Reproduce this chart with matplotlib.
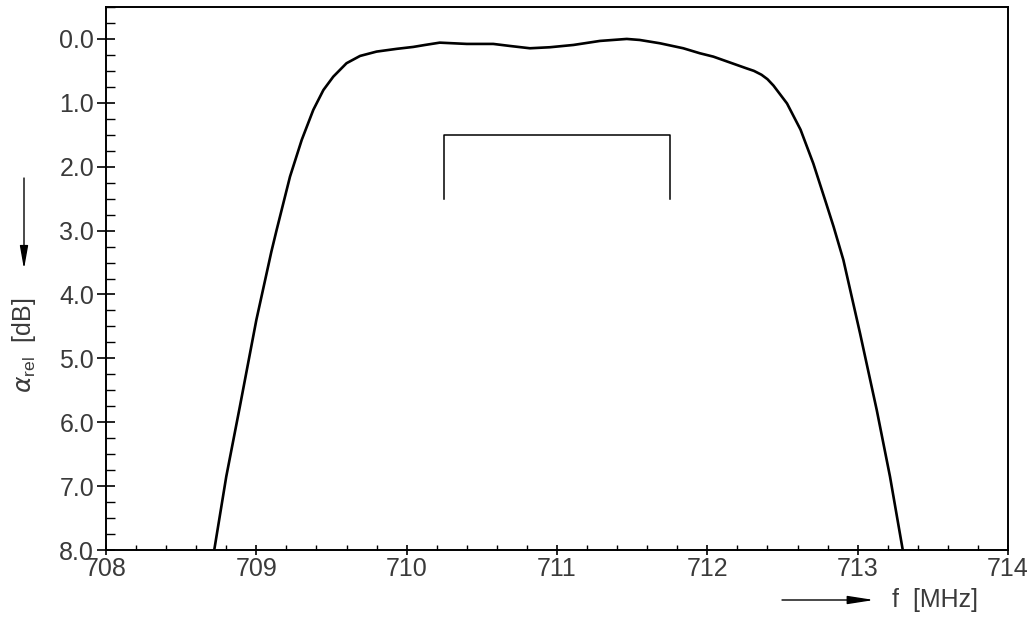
import matplotlib

matplotlib.use("Agg")
import matplotlib.pyplot as plt
from matplotlib.ticker import MultipleLocator, FormatStrFormatter

plt.rcParams["font.family"] = ["Liberation Sans", "DejaVu Sans"]
plt.rcParams["mathtext.fontset"] = "dejavusans"

# filter response: frequency [MHz] vs relative attenuation [dB]
freq = [708.72, 708.80, 708.89, 709.00, 709.10, 709.135, 709.224, 709.302, 709.379,
        709.446, 709.512, 709.60, 709.69, 709.80, 709.934, 710.044, 710.12, 710.22,
        710.40, 710.576, 710.687, 710.82, 710.953, 711.11, 711.286, 711.464, 711.55,
        711.685, 711.84, 711.95, 712.04, 712.26, 712.31, 712.36, 712.40, 712.44,
        712.53, 712.62, 712.705, 712.79, 712.84, 712.905, 713.016, 713.127, 713.215,
        713.30]
atten = [8.0, 6.85, 5.76, 4.40, 3.33, 2.99, 2.155, 1.58, 1.11,
         0.80, 0.59, 0.38, 0.266, 0.198, 0.155, 0.125, 0.095, 0.058,
         0.078, 0.078, 0.11, 0.146, 0.13, 0.094, 0.031, 0.0, 0.016,
         0.068, 0.146, 0.224, 0.277, 0.46, 0.50, 0.56, 0.63, 0.73,
         1.01, 1.42, 1.95, 2.57, 2.94, 3.46, 4.61, 5.81, 6.85,
         8.0]

# passband bracket
band_f = [710.25, 711.75]
band_top = 1.5
band_bottom = 2.5

fig = plt.figure(figsize=(10.34, 6.21), dpi=100)
ax = fig.add_axes([106 / 1034, 1 - 550 / 621, 902 / 1034, 543 / 621])

ax.plot(freq, atten, color="black", lw=1.9, solid_joinstyle="round")
ax.plot([band_f[0], band_f[0], band_f[1], band_f[1]],
        [band_bottom, band_top, band_top, band_bottom], color="black", lw=1.1)

ax.set_xlim(708, 714)
ax.set_ylim(8.0, -0.5)

ax.xaxis.set_major_locator(MultipleLocator(1))
ax.xaxis.set_minor_locator(MultipleLocator(0.2))
ax.yaxis.set_major_locator(MultipleLocator(1))
ax.yaxis.set_minor_locator(MultipleLocator(0.25))
ax.yaxis.set_major_formatter(FormatStrFormatter("%.1f"))

for s in ax.spines.values():
    s.set_linewidth(1.4)

txt = "#3a3a3a"
ax.tick_params(axis="y", which="major", direction="inout", length=13, width=1.2,
               labelsize=18, labelcolor=txt, pad=2)
ax.tick_params(axis="y", which="minor", direction="in", length=6.5, width=1.0)
ax.tick_params(axis="x", which="major", direction="inout", length=7.5, width=1.2,
               labelsize=18, labelcolor=txt, pad=1)
ax.tick_params(axis="x", which="minor", direction="in", length=3.5, width=1.0)

# axis labels with arrows, placed in figure pixels
fig.text(892 / 1034, 1 - 600 / 621, "f  [MHz]", fontsize=18, color=txt,
         ha="left", va="center")
ax.annotate("", xy=(874 / 1034, 1 - 600 / 621), xytext=(782 / 1034, 1 - 600 / 621),
            xycoords="figure fraction", textcoords="figure fraction",
            arrowprops=dict(arrowstyle="-|>,head_length=1.6,head_width=0.25",
                            color="black", lw=1.0, shrinkA=0, shrinkB=0))

fig.text(24 / 1034, 1 - 345 / 621, r"$\alpha_{\mathregular{rel}}$  [dB]", fontsize=18,
         color=txt, rotation=90, ha="center", va="center")
ax.annotate("", xy=(24 / 1034, 1 - 269 / 621), xytext=(24 / 1034, 1 - 178 / 621),
            xycoords="figure fraction", textcoords="figure fraction",
            arrowprops=dict(arrowstyle="-|>,head_length=1.4,head_width=0.25",
                            color="black", lw=1.0, shrinkA=0, shrinkB=0))

fig.savefig("out.png", dpi=100)
